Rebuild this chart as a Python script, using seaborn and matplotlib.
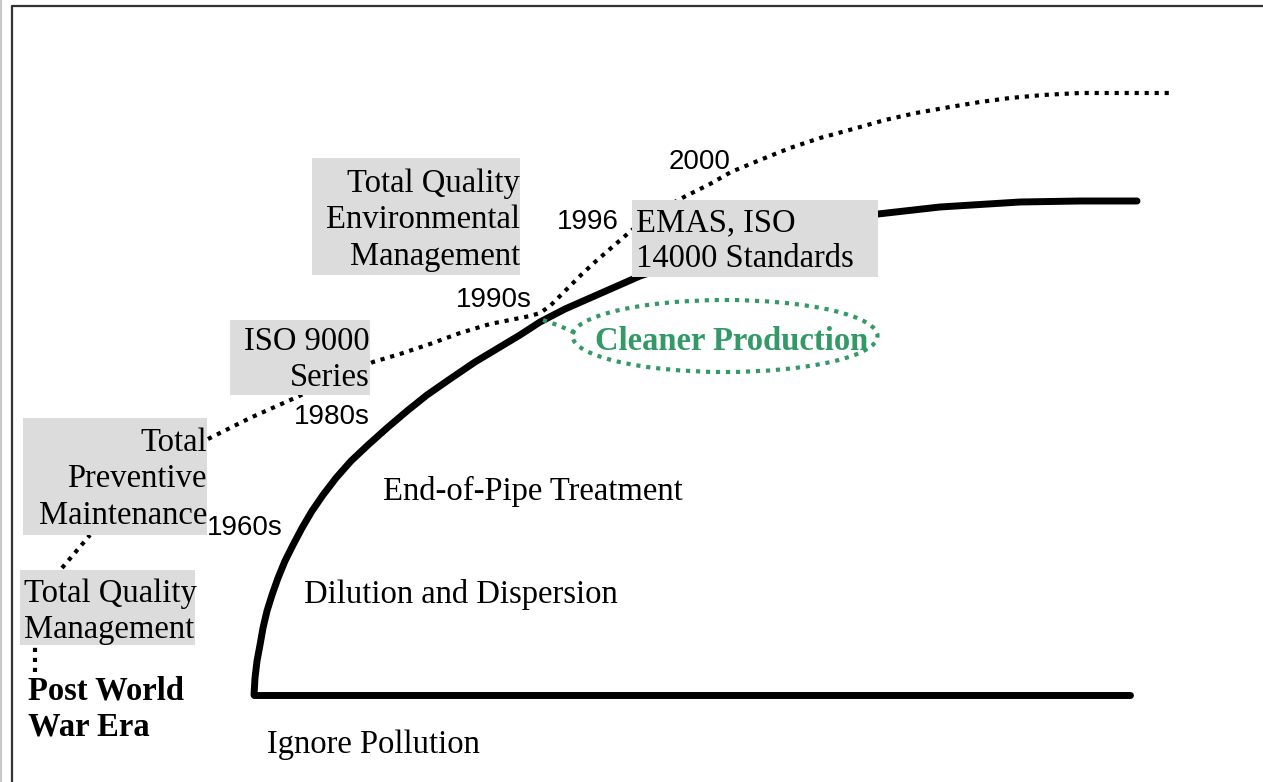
import numpy as np
import pandas as pd
import matplotlib
matplotlib.use("Agg")
import matplotlib.pyplot as plt
from matplotlib.patches import Rectangle, Ellipse
import seaborn as sns

# Solid curve (environmental approach), pixel coordinates
solid_x = [254, 255, 257, 260, 263, 267, 272, 278, 285, 293, 302, 312, 323,
           336, 351, 368, 387, 407, 427, 450, 475, 500, 520, 540, 565, 590,
           615, 640, 700, 780, 878, 940, 1020, 1080, 1137]
solid_y = [695, 678, 661, 645, 628, 611, 595, 578, 561, 545, 528, 511, 495,
           478, 461, 445, 428, 411, 395, 379, 362, 347, 335, 322, 309, 298,
           287, 276, 256, 234, 214, 207, 202, 201, 201]

# Baseline
base_x = [254, 1130]
base_y = [695, 695]

# Dotted curve (quality management approach)
dot_x = [208, 250, 297, 373, 400, 430, 460, 490, 515, 530, 540, 550, 560, 570,
         582, 595, 610, 632, 660, 684, 710, 731, 760, 790, 820, 853, 885, 916,
         950, 980, 1010, 1043, 1080, 1120, 1170]
dot_y = [439, 418, 397, 362, 354, 344, 333, 324, 319, 316, 313, 306, 296, 286,
         274, 262, 249, 230, 210, 197, 184, 172, 160, 148, 138, 129, 120, 113,
         107, 102, 98, 95, 93, 93, 93]

# Short dotted connectors
link1_x = [35, 35]
link1_y = [672, 647]
link2_x = [62, 90]
link2_y = [568, 535]

# Green tail into the Cleaner Production ellipse
tail_x = [543, 560, 575]
tail_y = [320, 326, 333]

box_labels = ["Total Quality\nManagement", "Total\nPreventive\nMaintenance",
              "ISO 9000\nSeries", "Total Quality\nEnvironmental\nManagement",
              "EMAS, ISO\n14000 Standards"]
year_labels = ["1960s", "1980s", "1990s", "1996", "2000"]
stage_labels = ["Ignore Pollution", "Dilution and Dispersion", "End-of-Pipe Treatment"]

GREEN = "#339966"
BOXC = "#dcdcdc"
SERIF = ["Liberation Serif", "DejaVu Serif"]
SANS = ["Liberation Sans", "DejaVu Sans"]

sns.set_style("white")

fig = plt.figure(figsize=(12.63, 7.82), dpi=100)
ax = fig.add_axes([0, 0, 1, 1])
ax.set_xlim(0, 1263)
ax.set_ylim(782, 0)
ax.axis("off")

# frame
ax.plot([0, 0], [0, 782], color="#c8c8c8", lw=3, zorder=1)
ax.plot([12, 12], [6, 782], color="#333333", lw=1.6, zorder=1)
ax.plot([12, 1263], [6, 6], color="#333333", lw=1.6, zorder=1)

dotted = (0, (1, 1.4))

sns.lineplot(x=base_x, y=base_y, ax=ax, color="black", lw=5, sort=False,
             estimator=None, zorder=2)
sns.lineplot(x=solid_x, y=solid_y, ax=ax, color="black", lw=5, sort=False,
             estimator=None, zorder=2)
for xs, ys in [(dot_x, dot_y), (link1_x, link1_y), (link2_x, link2_y)]:
    sns.lineplot(x=xs, y=ys, ax=ax, color="black", lw=3, sort=False,
                 estimator=None, linestyle=dotted, zorder=2)
sns.lineplot(x=tail_x, y=tail_y, ax=ax, color=GREEN, lw=3, sort=False,
             estimator=None, linestyle=dotted, zorder=2)
for line in ax.lines:
    line.set_dash_capstyle("butt")
    line.set_solid_joinstyle("round")

ax.add_patch(Ellipse((725, 336), 305, 72, fill=False, edgecolor=GREEN, lw=3,
                     linestyle=dotted, zorder=2))

# grey label boxes: (x0, y0, w, h)
boxes = [(20, 570, 175, 75), (23, 418, 184, 117), (230, 320, 140, 75),
         (312, 158, 208, 117), (632, 200, 246, 77)]
for x0, y0, w, h in boxes:
    ax.add_patch(Rectangle((x0, y0), w, h, facecolor=BOXC, edgecolor="none", zorder=3))

tkw = dict(family=SERIF, fontsize=23.5, va="center", zorder=4, linespacing=1.25,
           color="black")
ax.text(24, 612, box_labels[0], ha="left", **tkw)
ax.text(207, 479, box_labels[1], ha="right", **tkw)
ax.text(370, 360, box_labels[2], ha="right", **tkw)
ax.text(520, 220, box_labels[3], ha="right", **tkw)
ax.text(636, 241, box_labels[4], ha="left", **tkw)

ax.text(267, 745, stage_labels[0], ha="left", **tkw)
ax.text(304, 594, stage_labels[1], ha="left", **tkw)
ax.text(383, 491, stage_labels[2], ha="left", **tkw)

ax.text(28, 709, "Post World\nWar Era", ha="left", fontweight="bold", **tkw)
tkw["color"] = GREEN
ax.text(732, 341, "Cleaner Production", ha="center", fontweight="bold", **tkw)

ykw = dict(family=SANS, fontsize=20, va="center", ha="left", zorder=4,
           color="black")
year_pos = [(207, 528), (294, 417), (456, 300), (557, 222), (669, 162)]
for lab, (x, y) in zip(year_labels, year_pos):
    ax.text(x, y, lab, **ykw)

fig.savefig("out.png", dpi=100)
